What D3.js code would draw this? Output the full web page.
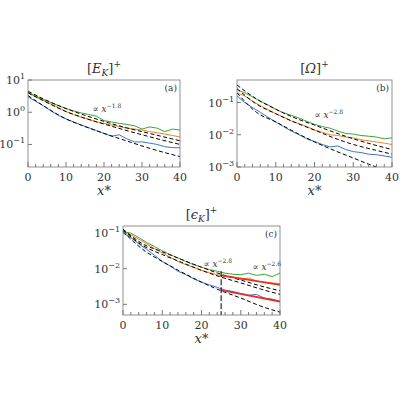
<!DOCTYPE html>
<html><head><meta charset="utf-8">
<script src="https://cdn.jsdelivr.net/npm/d3@7"></script>
<style>body{margin:0;background:#fff}text{font-family:"DejaVu Serif","Liberation Serif",serif}</style>
</head><body><svg id="c" width="400" height="400"></svg>
<script>
// x positions of the noisy series (step 2) and the fits (step 5)
var xs = d3.range(0, 41, 2);
var xf = d3.range(0, 41, 5);

// panel (a) [E_K]+
var aGreen = [4.2,3.2,2.5,2.0,1.6,1.3,1.1,0.95,0.85,0.75,0.55,0.5,0.45,0.42,0.38,0.30,0.35,0.32,0.25,0.30,0.28];
var aOrange = [4.0,3.0,2.3,1.8,1.4,1.05,0.85,0.7,0.6,0.5,0.45,0.4,0.36,0.32,0.3,0.28,0.25,0.23,0.21,0.19,0.17];
var aBlue = [3.0,2.2,1.6,1.1,0.8,0.62,0.5,0.4,0.33,0.27,0.22,0.18,0.2,0.15,0.12,0.12,0.11,0.1,0.085,0.08,0.078];
var aFits = [[4.5,2.3,1.3,0.8,0.52,0.35,0.25,0.18,0.13],[4.0,2.0,1.05,0.65,0.43,0.29,0.2,0.14,0.1],[3.3,1.35,0.62,0.36,0.22,0.14,0.09,0.06,0.042]];

// panel (b) [Omega]+
var bGreen = [0.25,0.2,0.15,0.11,0.085,0.062,0.048,0.04,0.033,0.026,0.021,0.018,0.016,0.013,0.011,0.0105,0.0095,0.009,0.0085,0.0075,0.008];
var bOrange = [0.2,0.16,0.11,0.08,0.06,0.045,0.035,0.027,0.022,0.018,0.014,0.012,0.01,0.0095,0.0085,0.008,0.007,0.0065,0.006,0.0055,0.005];
var bBlue = [0.16,0.1,0.07,0.05,0.035,0.025,0.018,0.013,0.01,0.0075,0.0062,0.005,0.0042,0.0045,0.0035,0.003,0.0028,0.0025,0.0024,0.0022,0.002];
var bFits = [[0.35,0.13,0.062,0.033,0.02,0.012,0.0075,0.005,0.0035],[0.27,0.09,0.045,0.024,0.014,0.008,0.005,0.0035,0.0025],[0.2,0.05,0.025,0.012,0.006,0.0033,0.0019,0.0011,0.0007]];

// panel (c) [eps_K]+
var cGreen = [0.11,0.1,0.075,0.055,0.042,0.032,0.025,0.02,0.016,0.013,0.011,0.0095,0.0085,0.0075,0.007,0.0068,0.0075,0.0065,0.007,0.006,0.0075];
var cOrange = [0.1,0.09,0.068,0.05,0.037,0.028,0.021,0.016,0.013,0.011,0.009,0.0078,0.0068,0.006,0.0058,0.005,0.0055,0.0045,0.0042,0.004,0.0038];
var cBlue = [0.1,0.075,0.05,0.035,0.024,0.016,0.012,0.0085,0.0068,0.0052,0.0042,0.0035,0.003,0.0025,0.0023,0.002,0.0018,0.0019,0.0015,0.0014,0.0012];
var cFits = [[0.13,0.05,0.03,0.018,0.011,0.007,0.0048,0.0033,0.0024],[0.12,0.045,0.025,0.015,0.009,0.0058,0.004,0.0027,0.0019],[0.11,0.035,0.016,0.008,0.0042,0.0024,0.0015,0.0009,0.0006]];
var cRedX = [25, 40];
var cRed = [[0.0065,0.0035],[0.0025,0.0012]];

var svg = d3.select("#c");

function panel(o) {
  var x = d3.scaleLinear().domain([0, 40]).range([o.x0, o.x1]);
  var y = d3.scaleLog().domain(o.ydom).range([o.y1, o.y0]);
  var g = svg.append("g");
  var clip = "clip" + o.tag;
  g.append("clipPath").attr("id", clip).append("rect")
    .attr("x", o.x0).attr("y", o.y0).attr("width", o.x1 - o.x0).attr("height", o.y1 - o.y0);
  var pg = g.append("g").attr("clip-path", "url(#" + clip + ")");
  var line = d3.line().x(d => x(d[0])).y(d => y(d[1]));
  var smooth = d3.line().curve(d3.curveMonotoneX).x(d => x(d[0])).y(d => y(d[1]));
  [[o.blue, "#3b76c4"], [o.orange, "#f57f20"], [o.green, "#3aa53a"]].forEach(function(s) {
    pg.append("path").attr("d", line(xs.map((v, i) => [v, s[0][i]])))
      .attr("fill", "none").attr("stroke", s[1]).attr("stroke-width", 1);
  });
  o.fits.forEach(function(f) {
    pg.append("path").attr("d", smooth(xf.map((v, i) => [v, f[i]])))
      .attr("fill", "none").attr("stroke", "#000").attr("stroke-width", 1).attr("stroke-dasharray", "4,2.5");
  });
  if (o.red) {
    o.red.forEach(function(r) {
      pg.append("path").attr("d", line(cRedX.map((v, i) => [v, r[i]])))
        .attr("fill", "none").attr("stroke", "#e8302a").attr("stroke-width", 1.8);
    });
    pg.append("line").attr("x1", x(25)).attr("x2", x(25)).attr("y1", y(0.0085)).attr("y2", o.y1)
      .attr("stroke", "#000").attr("stroke-width", 1).attr("stroke-dasharray", "6,2");
  }
  // frame and ticks
  g.append("rect").attr("x", o.x0).attr("y", o.y0).attr("width", o.x1 - o.x0).attr("height", o.y1 - o.y0)
    .attr("fill", "none").attr("stroke", "#777").attr("stroke-width", 0.8);
  d3.range(0, 41, 2).forEach(function(t) {
    g.append("line").attr("x1", x(t)).attr("x2", x(t)).attr("y1", o.y1).attr("y2", o.y1 - (t % 10 ? 3 : 5)).attr("stroke", "#777");
  });
  [0, 10, 20, 30, 40].forEach(function(t) {
    g.append("text").attr("x", x(t)).attr("y", o.y1 + 14).attr("text-anchor", "middle")
      .attr("font-size", 11).attr("fill", "#333").text(t);
  });
  o.yt.forEach(function(e) {
    var v = Math.pow(10, e);
    g.append("line").attr("x1", o.x0).attr("x2", o.x0 + 4).attr("y1", y(v)).attr("y2", y(v)).attr("stroke", "#777");
    var t = g.append("text").attr("x", o.x0 - 3).attr("y", y(v) + 4).attr("text-anchor", "end")
      .attr("font-size", 11).attr("fill", "#333").text("10");
    t.append("tspan").attr("dy", -5).attr("font-size", 8).text(String(e).replace("-", "−"));
  });
  g.append("text").attr("x", (o.x0 + o.x1) / 2).attr("y", o.y1 + 28).attr("text-anchor", "middle")
    .attr("font-size", 13).attr("font-style", "italic").attr("fill", "#333").text("x*");
  var tt = g.append("text").attr("x", (o.x0 + o.x1) / 2).attr("y", o.y0 - 7).attr("text-anchor", "middle")
    .attr("font-size", 13).attr("fill", "#333").text("[");
  tt.append("tspan").attr("font-style", "italic").text(o.title);
  if (o.sub) tt.append("tspan").attr("font-style", "italic").attr("font-size", 9).attr("dy", 3).text(o.sub);
  tt.append("tspan").attr("dy", o.sub ? -3 : 0).text("]");
  tt.append("tspan").attr("dy", -6).attr("font-size", 9).text("+");
  g.append("text").attr("x", o.x1 - 3).attr("y", o.y0 + 11).attr("text-anchor", "end")
    .attr("font-size", 9).attr("fill", "#333").text("(" + o.tag + ")");
  o.notes.forEach(function(n) {
    var t = g.append("text").attr("x", x(n[0])).attr("y", y(n[1])).attr("font-size", 9).attr("fill", "#333").text("∝ ");
    t.append("tspan").attr("font-style", "italic").text("x");
    t.append("tspan").attr("dy", -4).attr("font-size", 6).text(n[2]);
  });
}

panel({tag: "a", x0: 28, x1: 180, y0: 80, y1: 167, ydom: [Math.pow(10, -1.7), 10], yt: [1, 0, -1],
  green: aGreen, orange: aOrange, blue: aBlue, fits: aFits, title: "E", sub: "K",
  notes: [[17, 1.0, "−1.8"]]});
panel({tag: "b", x0: 237, x1: 392, y0: 80, y1: 167, ydom: [0.001, 0.5], yt: [-1, -2, -3],
  green: bGreen, orange: bOrange, blue: bBlue, fits: bFits, title: "Ω",
  notes: [[20, 0.033, "−2.8"]]});
panel({tag: "c", x0: 123, x1: 280, y0: 226, y1: 315, ydom: [Math.pow(10, -3.3), Math.pow(10, -0.8)], yt: [-1, -2, -3],
  green: cGreen, orange: cOrange, blue: cBlue, fits: cFits, red: cRed, title: "ϵ", sub: "K",
  notes: [[20.5, 0.011, "−2.8"], [33, 0.009, "−2.6"]]});
</script></body></html>
